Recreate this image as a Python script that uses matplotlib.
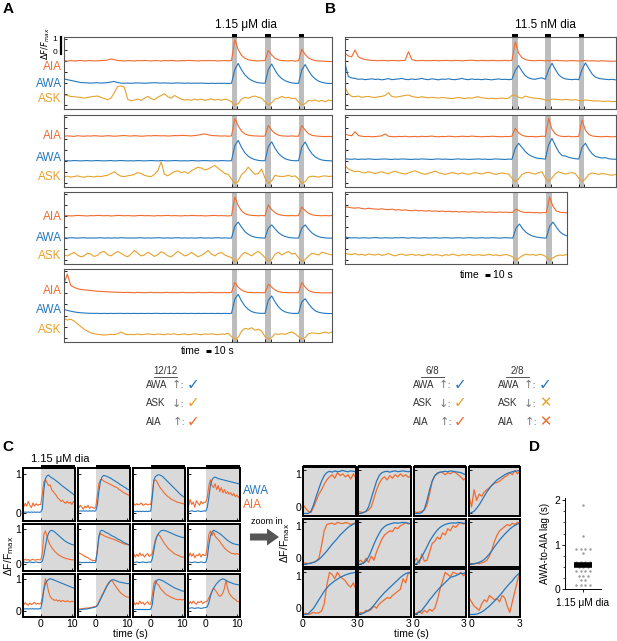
import matplotlib
matplotlib.use('Agg')
import matplotlib.pyplot as plt
import numpy as np
from matplotlib.patches import Rectangle, FancyArrow
from matplotlib.lines import Line2D
from matplotlib.transforms import blended_transform_factory
from matplotlib.ticker import MultipleLocator

plt.rcParams['font.family'] = ['Liberation Sans', 'DejaVu Sans']

W, H = 617, 641
AIA_COL = '#f26b2d'
AWA_COL = '#2477bd'
ASK_COL = '#e6a22c'
STIM_GRAY = '#bdbdbd'
SHADE = '#d9d9d9'

# ---------------- data ----------------
# panels A/B: values in % dF/F, one sample every 6 s
stim_onsets = [300, 360, 420]
stim_len = 10

a1_aia = [8,6,9,7,8,10,7,8,9,7, 8,9,10,12,18,14,10,8,7,9, 8,7,9,8,10,8,7,9,8,7,
          9,8,10,8,7,9,8,10,9,8, 7,9,8,10,8,9,7,8,9,7, 10,125,70,38,22,14,10,8,7,8,
          9,65,40,22,13,9,8,7,9,6, 8,72,42,24,14,9,7,6,5,4,3]
a1_awa = [32,28,24,20,16,12,11,10,9,10, 11,9,10,12,15,18,12,9,8,9, 8,9,10,9,8,9,10,11,10,9,
          10,9,8,9,10,9,8,9,8,9, 8,9,8,7,8,7,8,7,8,7, 8,85,118,82,55,36,24,16,11,9,
          8,85,115,80,52,34,22,15,10,8, 7,82,112,78,50,32,20,13,9,7,7]
a1_ask = [48,45,40,38,36,35,30,34,38,40, 42,35,28,22,30,60,95,98,92,25, 15,20,25,18,30,40,28,22,35,45,
          55,38,30,45,35,25,20,22,18,25, 20,25,18,22,26,20,24,18,25,20, 10,-8,0,25,35,30,38,42,35,30,
          10,-8,5,25,30,40,32,35,28,30, 10,-8,0,18,15,20,12,18,10,20,15]

a2_aia = [22,24,23,21,25,23,22,24,23,25, 24,22,23,25,24,22,23,25,26,24, 23,25,24,22,23,25,24,26,25,24,
          25,23,24,26,25,27,26,25,24,26, 28,32,35,30,26,25,24,23,24,22, 24,120,80,50,35,28,25,24,23,22,
          23,82,55,38,28,24,23,22,24,22, 22,82,55,36,27,24,22,21,20,21,20]
a2_awa = [12,11,10,12,11,10,11,12,10,11, 12,11,10,11,12,10,11,12,11,10, 11,10,12,11,10,11,12,11,10,12,
          11,10,11,12,11,10,11,10,12,11, 10,11,12,11,10,11,10,12,11,10, 11,95,124,85,55,36,24,17,13,11,
          11,90,116,80,52,34,22,16,12,11, 11,88,115,78,50,32,21,15,12,11,10]
a2_ask = [27,30,25,28,32,27,24,30,28,26, 30,28,32,35,45,55,40,30,28,32, 35,40,50,45,35,30,28,40,60,110,
          40,32,45,55,60,50,55,45,60,70, 80,75,65,70,80,90,75,60,45,40, 15,-10,0,40,55,80,60,40,45,70,
          20,-10,5,35,30,28,30,35,28,32, 15,-10,0,25,30,28,25,30,32,28,30]

a3_aia = [8,9,7,8,10,9,8,7,9,8, 10,9,8,9,7,8,10,9,8,9, 8,7,9,10,8,9,8,7,9,8,
          9,10,8,9,8,7,9,8,10,9, 8,9,7,8,9,10,8,9,8,7, 9,112,65,35,20,13,10,9,8,9,
          8,68,42,25,15,11,9,8,9,8, 9,57,36,22,14,10,9,8,9,8,9]
a3_awa = [10,9,11,10,9,10,11,9,10,9, 10,11,9,10,9,10,9,11,10,9, 10,9,10,11,9,10,9,10,11,10,
          9,10,9,10,11,9,10,9,10,9, 10,11,9,10,9,10,11,9,10,9, 9,75,98,70,45,30,20,14,11,10,
          9,65,82,60,40,26,18,13,10,9, 9,65,82,58,38,25,17,12,10,9,9]
a3_ask = [20,15,25,35,20,10,15,30,25,12, 18,35,40,22,15,28,40,30,18,10, 25,45,30,15,20,35,25,12,22,38,
          30,15,10,25,40,28,15,20,35,22, 10,18,30,45,25,15,28,35,20,12, 5,-15,-5,20,35,25,15,30,40,25,
          5,-15,-5,25,35,20,30,40,25,30, 5,-15,-5,15,30,25,20,35,30,25,20]

a4_aia = [60,112,50,40,32,28,26,24,22,20, 18,17,16,15,14,13,12,12,11,12, 11,10,12,11,10,11,12,10,11,10,
          11,12,10,11,10,12,11,10,11,10, 12,11,10,11,12,10,11,10,11,10, 12,66,40,25,16,12,11,10,11,10,
          10,57,40,25,16,12,11,10,10,10, 10,66,40,22,15,11,10,9,10,9,10]
a4_awa = [43,38,34,30,27,25,24,23,22,22, 22,21,22,21,22,21,22,22,21,22, 21,22,21,22,21,22,21,22,22,21,
          22,21,22,21,22,21,22,21,22,21, 22,21,22,21,22,21,22,21,22,21, 22,100,126,90,62,44,32,26,23,22,
          22,95,117,85,58,40,30,25,22,22, 22,85,102,75,52,36,28,24,22,21,21]
a4_ask = [100,90,95,85,70,55,40,30,20,15, 12,10,8,10,12,10,15,25,15,10, 12,10,14,10,12,15,12,10,14,12,
          10,14,12,15,10,12,14,10,12,15, 12,10,14,12,15,12,10,14,12,18, 0,-15,-5,30,45,40,48,35,40,30,
          0,-15,-5,15,12,15,12,20,25,15, 0,-15,-5,15,20,18,15,20,25,18,25]

b1_aia = [49,35,30,68,30,20,15,12,10,9, 8,10,9,8,10,9,8,9,10,58, 15,9,8,10,9,8,9,10,8,9,
          10,9,8,10,9,8,9,10,11,9, 8,10,9,8,10,9,8,9,10,8, 10,114,50,25,15,10,9,8,10,9,
          8,9,8,10,9,8,7,8,9,8, 7,8,9,7,8,7,6,8,7,6,5,6]
b1_awa = [119,45,38,35,30,32,28,30,33,29, 31,27,30,34,28,30,32,35,30,28, 32,29,31,35,30,28,33,30,27,31,
          30,33,29,28,31,35,30,28,32,29, 30,28,31,29,27,30,32,29,30,28, 30,80,106,75,50,38,32,30,35,38,
          30,85,119,85,55,40,32,30,28,30, 28,85,121,90,60,42,35,32,30,28,30,27]
b1_ask = [90,55,40,38,42,35,38,40,36,34, 38,40,45,61,40,36,38,42,45,48, 40,36,34,38,35,32,35,33,30,34,
          32,30,28,31,34,30,28,32,30,35, 38,32,30,28,30,27,29,31,28,30, 45,48,35,30,42,36,32,30,28,26,
          20,18,25,24,22,20,24,21,19,22, 18,15,20,18,16,14,15,13,12,14,11,12]

b2_aia = [35,28,25,47,26,22,20,21,19,20, 22,24,35,22,20,19,21,20,22,19, 20,21,19,22,20,21,23,20,19,21,
          20,22,21,19,20,22,21,20,23,21, 20,19,21,20,22,21,20,19,21,20, 22,66,40,28,22,20,21,19,20,22,
          21,121,60,35,25,21,20,22,19,20, 21,112,55,32,24,21,20,19,21,20,19,20]
b2_awa = [22,20,19,21,18,20,19,21,20,18, 19,20,21,19,18,20,19,21,20,19, 18,20,19,21,20,19,18,20,21,19,
          20,19,18,20,21,19,20,18,19,20, 21,19,20,18,19,21,20,19,18,20, 19,80,108,85,62,45,35,28,24,22,
          20,100,135,95,60,40,37,30,25,22, 20,85,108,75,50,35,30,26,28,22,20,19]
b2_ask = [89,70,62,55,58,52,48,55,50,45, 50,55,48,44,52,58,50,46,42,48, 55,60,52,45,40,46,52,58,50,44,
          40,45,50,46,42,48,44,40,45,50, 46,42,48,52,46,40,44,48,45,42, 20,0,15,40,48,52,45,42,50,55,
          20,0,20,45,55,48,42,46,50,44, 20,0,15,40,48,44,40,45,42,38,35,40]

b3_aia = [57,55,52,50,53,48,46,50,47,45, 44,47,43,42,45,40,42,38,41,37, 36,39,35,37,34,36,33,35,32,34,
          31,33,30,32,29,31,30,28,31,29, 28,30,27,29,28,26,29,27,28,26, 28,45,35,28,26,27,25,26,24,25,
          26,112,60,35,28,26,25]
b3_awa = [15,12,10,11,9,10,11,9,10,12, 10,9,11,10,9,11,10,12,10,9, 11,10,9,10,11,9,10,11,9,10,
          11,10,9,10,11,9,10,11,10,9, 10,11,9,10,11,10,9,10,11,10, 9,65,87,60,40,28,20,15,12,10,
          9,75,98,70,45,30,22]
b3_ask = [30,25,22,28,20,24,18,26,22,20, 25,18,22,28,20,15,22,25,18,20, 24,18,22,16,20,25,18,22,20,15,
          22,18,25,20,16,22,19,24,18,20, 22,17,20,24,18,21,16,20,23,18, 10,-10,5,18,25,20,22,18,24,20,
          10,-10,5,15,20,18,22]

# panel C: 12 responses, % dF/Fmax, -6 s .. 11 s every 0.5 s
c_awa = [
    [3,2,3,2,3,2,3,2,3,2,3,2, 3,10,60,88,95,97,93,90,88,85,82,79,76,72,69,66,63,60,57,54,51,48,45],
    [6,5,6,5,6,5,6,5,6,5,6,5, 6,20,55,80,92,96,95,94,92,90,88,85,83,80,78,75,72,70,67,65,62,60,58],
    [4,5,4,5,4,5,4,5,4,5,4,5, 5,40,85,93,96,98,97,95,92,88,84,80,76,72,68,64,60,56,52,48,45,42,40],
    [5,4,5,6,5,4,5,6,5,4,5,6, 5,15,40,70,85,90,92,90,88,87,86,85,84,83,82,81,80,79,78,77,76,75,75],
    [5,6,5,4,5,6,5,4,5,6,5,4, 5,8,25,50,75,88,95,97,95,92,88,84,80,76,72,68,65,62,60,58,56,55,55],
    [5,4,5,4,5,4,5,4,5,4,5,4, 5,35,80,95,97,95,92,90,88,85,82,80,78,75,72,70,68,65,62,60,58,56,55],
    [5,4,5,6,5,4,5,6,5,4,5,6, 5,15,40,65,80,88,93,96,97,96,95,93,91,89,87,85,83,81,80,78,77,76,75],
    [5,6,5,4,5,6,5,4,5,6,5,4, 5,20,55,80,92,97,95,93,90,87,84,80,76,72,68,65,62,60,58,57,56,55,55],
    [5,6,5,6,5,6,5,6,5,6,5,6, 6,30,65,85,93,98,100,99,97,95,93,91,89,87,85,83,81,79,77,75,73,71,70],
    [2,3,3,4,4,5,5,6,7,8,9,10, 12,15,25,35,45,55,65,75,83,90,95,97,96,94,92,90,89,88,87,86,85,85,84],
    [3,4,3,4,3,4,3,4,3,4,3,4, 4,20,60,85,95,98,97,95,93,90,87,84,81,78,75,72,70,68,66,64,62,61,60],
    [8,7,8,9,8,7,8,9,8,7,8,9, 10,12,25,45,60,70,78,85,90,95,98,100,98,95,92,90,88,86,84,83,82,81,80],
]
c_aia = [
    [28,15,25,18,30,20,14,26,18,24,20,22, 22,50,80,85,78,70,72,60,55,50,45,38,35,30,33,28,25,30,25,28,22,30,25],
    [18,12,20,15,10,18,14,20,12,16,15,12, 15,45,75,85,86,82,80,78,76,74,72,70,68,66,64,60,58,55,52,50,48,46,44],
    [22,25,20,24,21,23,26,20,22,24,21,23, 22,50,82,85,80,72,65,60,55,50,46,42,40,36,34,32,30,28,27,26,25,24,23],
    [30,18,35,22,28,15,32,25,20,30,24,28, 28,40,70,85,70,65,75,60,70,55,65,52,60,50,55,48,52,45,50,42,46,40,44],
    [12,10,14,11,13,10,12,14,11,12,13,12, 12,30,85,95,80,65,55,48,42,36,32,28,25,22,20,18,16,15,14,13,12,12,12],
    [35,32,30,28,25,22,20,18,15,12,10,10, 10,40,75,88,85,82,80,78,76,75,73,72,70,68,66,64,62,60,58,57,56,55,54],
    [25,30,20,28,22,32,24,28,20,26,30,22, 25,30,50,70,80,85,80,72,65,58,52,46,42,38,34,30,28,26,24,22,20,20,20],
    [28,20,32,22,30,18,26,24,30,20,28,25, 25,50,85,95,82,92,80,75,70,65,58,52,46,42,38,35,32,30,30,28,30,28,30],
    [22,18,25,20,17,24,19,22,26,20,23,21, 22,40,70,100,85,60,45,38,35,32,34,30,33,28,32,30,28,31,29,27,30,28,29],
    [4,5,5,6,6,7,8,8,9,10,11,12, 13,18,28,38,48,58,68,78,86,92,96,90,82,75,68,62,56,52,48,45,43,42,40],
    [22,28,18,25,20,30,22,26,18,24,28,20, 20,50,85,95,85,80,72,65,60,55,50,48,45,42,40,38,36,35,34,36,33,35,34],
    [25,20,28,22,30,24,20,28,25,30,22,26, 28,30,40,50,60,70,65,58,50,45,48,55,70,95,70,55,48,42,38,35,30,28,26],
]

# zoomed onsets: 0 .. 3 s every 0.15 s
z_awa = [
    [0,0,0,5,20,40,58,75,88,95,98,96,99,97,98,100,98,97,99,98,97],
    [0,0,2,5,15,35,55,75,88,95,97,98,96,98,99,97,98,99,98,97,98],
    [0,0,0,2,10,30,55,75,88,94,96,97,98,97,99,98,97,96,95,92,90],
    [0,2,5,12,20,30,40,50,58,66,72,78,82,86,90,93,95,97,98,99,100],
    [0,1,2,3,5,8,12,18,25,32,40,48,55,62,70,76,82,88,92,96,98],
    [0,1,3,8,18,32,48,62,74,84,90,94,96,98,99,98,99,100,99,98,97],
    [0,2,8,18,30,42,55,65,74,82,88,92,95,97,98,99,98,100,99,98,99],
    [0,1,2,3,5,8,12,18,25,33,42,50,58,65,72,78,84,89,93,96,98],
    [0,0,2,8,15,25,35,45,55,63,70,75,80,84,88,91,94,96,98,99,100],
    [0,1,3,6,10,15,22,30,38,45,52,58,64,70,76,82,88,93,97,99,100],
    [0,2,5,10,18,26,35,42,50,57,64,70,76,82,88,90,92,95,98,97,100],
    [0,0,0,1,3,6,10,15,20,26,32,38,45,52,60,67,74,80,88,94,100],
]
z_aia = [
    [20,12,5,2,15,30,45,55,68,78,85,90,82,95,88,92,85,90,80,92,82],
    [5,3,2,4,8,15,35,55,70,80,85,78,88,82,90,85,92,86,90,84,88],
    [5,2,3,5,8,20,45,75,88,92,96,95,90,95,92,97,95,90,85,78,82],
    [40,15,55,30,45,40,50,55,60,65,70,72,75,80,85,88,95,90,100,92,98],
    [5,3,2,4,5,8,15,45,80,95,97,98,95,100,98,97,100,98,95,97,99],
    [5,10,3,15,5,20,10,30,45,60,70,75,80,78,88,85,92,95,100,96,98],
    [5,15,2,25,8,10,30,50,55,65,60,75,70,85,80,92,88,95,100,96,98],
    [3,2,1,3,2,4,6,10,20,35,55,70,80,85,90,95,92,98,95,100,98],
    [0,3,0,2,5,3,4,8,25,70,100,95,85,100,90,85,80,70,65,75,60],
    [0,5,3,10,8,12,20,15,25,30,35,40,38,45,50,55,60,85,75,100,95],
    [0,3,8,2,10,5,12,8,15,35,60,80,100,95,90,100,98,95,100,92,96],
    [40,30,20,15,10,25,35,30,45,40,35,38,30,45,40,20,5,30,55,80,100],
]

# panel D: AWA-to-AIA lag (s)
lag = [1.9, 1.2, 0.9, 0.9, 0.9, 0.9, 0.8, 0.6, 0.6, 0.6, 0.6, 0.5, 0.5, 0.5,
       0.4, 0.4, 0.4, 0.4, 0.3, 0.3, 0.3, 0.2, 0.2, 0.1, 0.1, 0.1, 0.1]

summary_titles = ['12/12', '6/8', '2/8']
summary_ok = [[True, True, True], [True, True, True], [True, False, False]]

# ---------------- figure ----------------
fig = plt.figure(figsize=(W / 100, H / 100), dpi=100)


def px_axes(x0, y0, x1, y1):
    return fig.add_axes([x0 / W, 1 - y1 / H, (x1 - x0) / W, (y1 - y0) / H])


def ftext(x, y, s, **kw):
    kw.setdefault('va', 'center')
    return fig.text(x / W, 1 - y / H, s, **kw)


OFFS = (2.6, 1.35, 0.3)
COLS = (AIA_COL, AWA_COL, ASK_COL)
NAMES = ('AIA', 'AWA', 'ASK')


def trace_panel(box, traces, tmax, label_y=None, top_bars=False):
    ax = px_axes(*box)
    onsets = [s for s in stim_onsets if s < tmax]
    for on in onsets:
        ax.axvspan(on, on + stim_len, color=STIM_GRAY, lw=0, zorder=0)
    for vals, off, col in zip(traces, OFFS, COLS):
        t = np.arange(len(vals)) * 6
        ax.plot(t, off + np.array(vals) / 100, color=col, lw=0.8)
    ax.set_xlim(0, tmax)
    ax.set_ylim(0, 4)
    ax.set_yticks([0.22, 0.83, 1.44, 2.06, 2.67, 3.28, 3.89])
    ax.set_xticks([v for on in onsets for v in (on, on + stim_len)])
    ax.tick_params(direction='in', length=2, width=0.6, labelleft=False, labelbottom=False)
    for sp in ax.spines.values():
        sp.set_color('#555555')
        sp.set_linewidth(0.8)
    bt = blended_transform_factory(ax.transAxes, ax.transData)
    if label_y is not None:
        for name, col, y in zip(NAMES, COLS, label_y):
            ax.text(-0.008, y, name, transform=bt, ha='right', va='center', color=col, fontsize=8.5)
    if top_bars:
        tb = blended_transform_factory(ax.transData, ax.transAxes)
        for on in onsets:
            ax.add_patch(Rectangle((on, 1.0), stim_len, 0.045, transform=tb, color='k',
                                   clip_on=False, lw=0))
    return ax


a1 = trace_panel((64, 37, 332, 109), (a1_aia, a1_awa, a1_ask), 480, (2.35, 1.39, 0.54), True)
a2 = trace_panel((64, 115, 332, 187), (a2_aia, a2_awa, a2_ask), 480, (2.83, 1.62, 0.54))
a3 = trace_panel((64, 192, 332, 264), (a3_aia, a3_awa, a3_ask), 480, (2.61, 1.44, 0.44))
a4 = trace_panel((64, 269, 332, 342), (a4_aia, a4_awa, a4_ask), 480, (2.79, 1.74, 0.67))
b1 = trace_panel((345, 37, 616, 109), (b1_aia, b1_awa, b1_ask), 487, None, True)
b2 = trace_panel((345, 115, 616, 187), (b2_aia, b2_awa, b2_ask), 487)
b3 = trace_panel((345, 192, 567, 264), (b3_aia, b3_awa, b3_ask), 397)

# dF/F scale bar on A1
bt = blended_transform_factory(a1.transAxes, a1.transData)
a1.plot([-0.012, -0.012], [3.05, 4.0], transform=bt, color='k', lw=1.6, clip_on=False)
a1.text(-0.024, 3.88, '1', transform=bt, ha='right', va='center', fontsize=6)
a1.text(-0.024, 3.15, '0', transform=bt, ha='right', va='center', fontsize=6)
a1.text(-0.068, 3.62, r'$\Delta F/F_{max}$', transform=bt, ha='center', va='center',
        fontsize=6, rotation=90)


def time_bar(ax, x0, ybar):
    tb = blended_transform_factory(ax.transData, ax.transAxes)
    ax.plot([x0, x0 + 10], [ybar, ybar], transform=tb, color='k', lw=2.2,
            solid_capstyle='butt', clip_on=False)
    ax.text(x0 - 10, ybar, 'time', transform=tb, ha='right', va='center', fontsize=7.5)
    ax.text(x0 + 14, ybar, '10 s', transform=tb, ha='left', va='center', fontsize=7.5)


time_bar(a4, 254, -0.12)
time_bar(b3, 250, -0.15)

ftext(246, 25, '1.15 μM dia', ha='center', fontsize=8.5)
ftext(545, 25, '11.5 nM dia', ha='center', fontsize=8.5)
for letter, x, y in (('A', 8, 9), ('B', 331, 9), ('C', 8, 447), ('D', 534, 447)):
    ftext(x, y, letter, ha='center', fontsize=11, fontweight='bold')

# summary marks
row_names = ['AWA', 'ASK', 'AIA']
row_arrows = ['↑', '↓', '↑']
mark_cols = [AWA_COL, ASK_COL, AIA_COL]
for x_left, title, oks in zip((146, 413, 498), summary_titles, summary_ok):
    ftext(x_left + 19, 371, title, ha='center', fontsize=7, color='#333333')
    fig.add_artist(Line2D([(x_left + 8) / W, (x_left + 31) / W], [1 - 377 / H] * 2,
                          color='#333333', lw=0.6))
    for i, (name, arr, ok, col) in enumerate(zip(row_names, row_arrows, oks, mark_cols)):
        y = 385 + i * 18.5
        ftext(x_left, y, name, ha='left', fontsize=7, color='#333333')
        ftext(x_left + 26 if i < 2 else x_left + 27, y, arr + ':', ha='left', fontsize=8,
              color='#777777', family='DejaVu Sans')
        ftext(x_left + 41, y, '✓' if ok else '✕', ha='left', fontsize=11 if ok else 10.5,
              color=col)

# panel C left grid
c_cols = [(23, 75), (78, 130), (133, 185), (188, 240)]
c_rows = [(468, 521), (524, 571), (574, 617)]
for k in range(12):
    r, c = divmod(k, 4)
    ax = px_axes(c_cols[c][0], c_rows[r][0], c_cols[c][1], c_rows[r][1])
    t = -6 + 0.5 * np.arange(len(c_awa[k]))
    ax.axvspan(0, 12, color=SHADE, lw=0, zorder=0)
    ax.plot(t, np.array(c_aia[k]) / 100, color=AIA_COL, lw=0.8)
    ax.plot(t, np.array(c_awa[k]) / 100, color=AWA_COL, lw=0.8)
    ax.set_xlim(-5.7, 11)
    ax.set_ylim(-0.2, 1.15)
    ax.set_xticks([0, 10])
    ax.set_yticks([0, 1])
    ax.tick_params(direction='in', length=2, width=0.6, labelsize=7.5, pad=1.5,
                   labelleft=(c == 0), labelbottom=(r == 2))
    for sp in ax.spines.values():
        sp.set_linewidth(1.4)
    if r == 0:
        tb = blended_transform_factory(ax.transData, ax.transAxes)
        ax.add_patch(Rectangle((0, 0.98), 11, 0.07, transform=tb, color='k', clip_on=False, lw=0))

ftext(60, 459, '1.15 μM dia', ha='center', fontsize=8)
ftext(243, 491, 'AWA', ha='left', fontsize=8.5, color=AWA_COL)
ftext(243, 505, 'AIA', ha='left', fontsize=8.5, color=AIA_COL)
ftext(9, 556, 'ΔF/F$_{\\rm max}$', ha='center', fontsize=7.5, rotation=90)
ftext(130, 634, 'time (s)', ha='center', fontsize=7.5)

# zoom arrow
ftext(267, 522, 'zoom in', ha='center', fontsize=6.5)
fig.add_artist(FancyArrow(250 / 100, (H - 537) / 100, 29 / 100, 0, width=7 / 100,
                          head_width=17 / 100, head_length=12 / 100, length_includes_head=True,
                          transform=fig.dpi_scale_trans, color='#555555', lw=0))

# panel C right grid (zoomed)
z_cols = [(303, 356), (358, 411), (414, 466), (469, 520)]
z_rows = [(467, 516), (519, 567), (569, 617)]
for k in range(12):
    r, c = divmod(k, 4)
    ax = px_axes(z_cols[c][0], z_rows[r][0], z_cols[c][1], z_rows[r][1])
    t = 0.15 * np.arange(len(z_awa[k]))
    ax.set_facecolor(SHADE)
    ax.plot(t, np.array(z_aia[k]) / 100, color=AIA_COL, lw=0.9)
    ax.plot(t, np.array(z_awa[k]) / 100, color=AWA_COL, lw=0.9)
    ax.set_xlim(0, 3)
    ax.set_ylim(-0.06, 1.08)
    ax.set_xticks([0, 3])
    ax.set_yticks([0, 1])
    ax.tick_params(direction='in', length=2, width=0.6, labelsize=7.5, pad=1.5,
                   labelleft=(c == 0), labelbottom=(r == 2))
    for sp in ax.spines.values():
        sp.set_linewidth(1.4)
    if c == 0:
        ylab0, ylab1 = ax.get_yticklabels()
        ylab0.set_va('bottom')
        ylab1.set_va('top')
    if r == 2:
        lab0, lab3 = ax.get_xticklabels()
        if c > 0:
            lab0.set_ha('left')
        if c < 3:
            lab3.set_ha('right')
    if r == 0:
        ax.add_patch(Rectangle((0, 0.98), 1, 0.07, transform=ax.transAxes, color='k',
                               clip_on=False, lw=0))

ftext(285, 543, 'ΔF/F$_{\\rm max}$', ha='center', fontsize=7.5, rotation=90)
ftext(411, 634, 'time (s)', ha='center', fontsize=7.5)

# panel D
ax = px_axes(565, 498, 601, 589)
vals, counts = np.unique(lag, return_counts=True)
for v, n in zip(vals, counts):
    xs = (np.arange(n) - (n - 1) / 2) * 0.25
    ax.scatter(xs, [v] * n, s=3, color='#9a9a9a', lw=0, zorder=2)
ax.hlines(np.mean(lag), -0.48, 0.48, color='k', lw=4, zorder=3)
ax.set_xlim(-1, 1)
ax.set_ylim(0, 2.05)
ax.set_yticks([0, 1, 2])
ax.yaxis.set_minor_locator(MultipleLocator(0.25))
ax.set_xticks([0])
ax.set_xticklabels([])
ax.tick_params(length=2, width=0.6, labelsize=7.5, pad=1.5)
ax.tick_params(which='minor', length=1.5, width=0.5)
for s in ('top', 'right'):
    ax.spines[s].set_visible(False)
for s in ('left', 'bottom'):
    ax.spines[s].set_linewidth(0.7)
ax.set_ylabel('AWA-to-AIA lag (s)', fontsize=7, labelpad=3)
ax.set_xlabel('1.15 μM dia', fontsize=7.3, labelpad=3)

fig.savefig('out.png', dpi=100)
